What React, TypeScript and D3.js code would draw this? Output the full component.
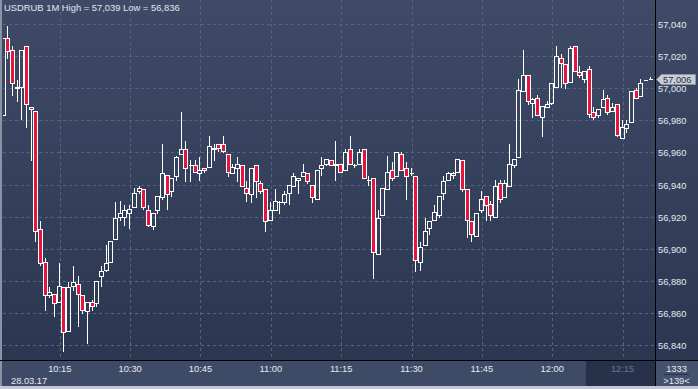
import React from 'react';
import * as d3 from 'd3';

// USDRUB, 1-minute bars, 28.03.17
const symbol = 'USDRUB';
const period = '1M';
const sessionDate = '28.03.17';
const firstBar = new Date(2017, 2, 28, 10, 3);
const totalBars = 1333;

const opens = [
  56.983, 57.031, 57.024, 57.001, 57.001, 57.026, 56.988, 56.986, 56.912, 56.892,
  56.871, 56.872, 56.867, 56.876, 56.849, 56.877, 56.878, 56.871, 56.861, 56.867,
  56.866, 56.883, 56.887, 56.892, 56.906, 56.920, 56.920, 56.922, 56.926, 56.936,
  56.937, 56.924, 56.914, 56.924, 56.932, 56.946, 56.936, 56.945, 56.959, 56.962,
  56.952, 56.952, 56.947, 56.950, 56.951, 56.963, 56.965, 56.965, 56.959, 56.947,
  56.950, 56.952, 56.938, 56.934, 56.952, 56.941, 56.937, 56.918, 56.924, 56.929,
  56.929, 56.935, 56.939, 56.943, 56.945, 56.947, 56.940, 56.931, 56.950, 56.953,
  56.955, 56.952, 56.953, 56.949, 56.962, 56.952, 56.953, 56.962, 56.943, 56.944,
  56.897, 56.921, 56.937, 56.949, 56.945, 56.959, 56.950, 56.947, 56.945, 56.892,
  56.902, 56.913, 56.918, 56.921, 56.935, 56.943, 56.946, 56.948, 56.955, 56.937,
  56.917, 56.908, 56.924, 56.933, 56.928, 56.920, 56.941, 56.932, 56.939, 56.952,
  56.957, 56.998, 57.008, 56.991, 56.994, 56.982, 56.988, 56.991, 57.001, 57.019,
  57.015, 57.004, 57.026, 57.010, 57.006, 57.012, 56.985, 56.983, 56.988, 56.994,
  56.986, 56.990, 56.969, 56.975, 56.979, 56.999, 56.995, 57.005, 57.006,
];

const highs = [
  57.031, 57.039, 57.026, 57.005, 57.024, 57.026, 56.988, 56.986, 56.917, 56.894,
  56.876, 56.872, 56.891, 56.876, 56.879, 56.889, 56.883, 56.871, 56.867, 56.868,
  56.880, 56.889, 56.902, 56.905, 56.929, 56.930, 56.927, 56.927, 56.938, 56.939,
  56.937, 56.927, 56.922, 56.933, 56.965, 56.946, 56.944, 56.958, 56.985, 56.967,
  56.955, 56.955, 56.957, 56.950, 56.970, 56.965, 56.965, 56.970, 56.959, 56.953,
  56.957, 56.952, 56.942, 56.950, 56.952, 56.942, 56.937, 56.929, 56.937, 56.930,
  56.936, 56.940, 56.947, 56.944, 56.953, 56.947, 56.940, 56.949, 56.957, 56.956,
  56.955, 56.967, 56.953, 56.962, 56.970, 56.953, 56.962, 56.962, 56.945, 56.944,
  56.924, 56.938, 56.958, 56.954, 56.960, 56.960, 56.954, 56.950, 56.945, 56.904,
  56.919, 56.917, 56.927, 56.933, 56.945, 56.948, 56.948, 56.956, 56.955, 56.937,
  56.917, 56.922, 56.936, 56.933, 56.930, 56.943, 56.943, 56.943, 56.965, 56.956,
  57.006, 57.024, 57.008, 56.994, 56.996, 56.989, 56.992, 57.003, 57.026, 57.021,
  57.015, 57.026, 57.026, 57.014, 57.011, 57.014, 56.988, 56.987, 56.999, 56.996,
  56.991, 56.990, 56.980, 56.980, 56.998, 57.000, 57.006, 57.005, 57.007,
];

const lows = [
  56.983, 57.019, 56.996, 56.992, 56.981, 56.976, 56.955, 56.905, 56.890, 56.862,
  56.870, 56.858, 56.867, 56.836, 56.849, 56.874, 56.852, 56.860, 56.841, 56.862,
  56.864, 56.877, 56.886, 56.892, 56.906, 56.918, 56.915, 56.913, 56.926, 56.935,
  56.925, 56.914, 56.912, 56.922, 56.931, 56.925, 56.933, 56.943, 56.959, 56.942,
  56.942, 56.948, 56.943, 56.948, 56.951, 56.955, 56.961, 56.960, 56.945, 56.947,
  56.942, 56.939, 56.930, 56.929, 56.932, 56.935, 56.911, 56.918, 56.924, 56.922,
  56.928, 56.928, 56.939, 56.935, 56.945, 56.941, 56.929, 56.931, 56.946, 56.952,
  56.952, 56.943, 56.948, 56.949, 56.953, 56.951, 56.953, 56.944, 56.940, 56.882,
  56.897, 56.921, 56.937, 56.943, 56.945, 56.949, 56.931, 56.946, 56.886, 56.887,
  56.902, 56.909, 56.918, 56.920, 56.931, 56.943, 56.944, 56.948, 56.936, 56.907,
  56.905, 56.908, 56.923, 56.918, 56.918, 56.920, 56.929, 56.932, 56.939, 56.951,
  56.957, 56.998, 56.990, 56.982, 56.983, 56.970, 56.988, 56.990, 57.001, 57.001,
  57.000, 57.004, 57.011, 57.007, 57.004, 56.982, 56.981, 56.982, 56.988, 56.984,
  56.986, 56.970, 56.969, 56.973, 56.979, 56.994, 56.995, 57.005, 57.006,
];

const closes = [
  57.031, 57.023, 57.003, 57.000, 57.024, 56.990, 56.987, 56.911, 56.891, 56.871,
  56.873, 56.866, 56.877, 56.848, 56.876, 56.879, 56.872, 56.862, 56.867, 56.864,
  56.880, 56.886, 56.891, 56.905, 56.919, 56.922, 56.924, 56.925, 56.935, 56.938,
  56.926, 56.915, 56.922, 56.933, 56.947, 56.934, 56.944, 56.957, 56.962, 56.950,
  56.952, 56.948, 56.949, 56.949, 56.964, 56.962, 56.963, 56.961, 56.948, 56.951,
  56.953, 56.939, 56.935, 56.950, 56.942, 56.936, 56.917, 56.924, 56.930, 56.929,
  56.934, 56.940, 56.945, 56.944, 56.948, 56.942, 56.932, 56.949, 56.952, 56.956,
  56.952, 56.953, 56.948, 56.960, 56.953, 56.952, 56.960, 56.944, 56.943, 56.898,
  56.919, 56.938, 56.948, 56.944, 56.960, 56.949, 56.945, 56.947, 56.893, 56.901,
  56.911, 56.917, 56.923, 56.933, 56.942, 56.947, 56.947, 56.956, 56.937, 56.918,
  56.909, 56.922, 56.931, 56.927, 56.921, 56.939, 56.931, 56.941, 56.953, 56.956,
  56.999, 57.008, 56.992, 56.993, 56.983, 56.989, 56.990, 57.003, 57.020, 57.016,
  57.003, 57.025, 57.011, 57.008, 57.011, 56.984, 56.982, 56.987, 56.993, 56.985,
  56.988, 56.971, 56.976, 56.978, 56.998, 56.994, 57.003, 57.005, 57.006,
];

const priceTicks = [56.84, 56.86, 56.88, 56.90, 56.92, 56.94, 56.96, 56.98, 57.0, 57.02, 57.04];

const W = 698;
const H = 389;
const plotLeft = 3;
const plotRight = 655;
const plotBottom = 360;
const axisBottom = 386;
const font = '"Liberation Sans", Arial, sans-serif';

const fmtPrice = (v: number) => d3.format('.3f')(v).replace('.', ',');

export default function App() {
  const n = closes.length;
  const times = d3.range(n).map(i => d3.timeMinute.offset(firstBar, i));

  const x = d3.scaleTime()
    .domain([times[0], times[n - 1]])
    .range([3.5, 650.7]);

  const y = d3.scaleLinear()
    .domain([56.84, 57.04])
    .range([345, 24]);

  const timeTicks = x.ticks(d3.timeMinute.every(15) as any);
  const fmtTime = d3.timeFormat('%H:%M');

  const hi = d3.max(highs) as number;
  const lo = d3.min(lows) as number;
  const last = closes[n - 1];
  const lastY = Math.round(y(last)) + 0.5;

  const candles = times.map((t, i) => {
    const cx = Math.round(x(t));
    const o = opens[i], c = closes[i];
    const yTop = Math.round(y(Math.max(o, c))) + 0.5;
    const yBot = Math.round(y(Math.min(o, c))) + 0.5;
    const yHi = Math.round(y(highs[i]));
    const yLo = Math.round(y(lows[i])) + 1;
    const bear = c < o;
    const wx = cx - 0.5;
    return (
      <g key={i}>
        {yHi < yTop && <line x1={wx} x2={wx} y1={yHi} y2={yTop} stroke="#fff" />}
        {yLo > yBot && <line x1={wx} x2={wx} y1={yBot} y2={yLo} stroke="#fff" />}
        {yBot - yTop < 1 ? (
          <line x1={cx - 2} x2={cx + 2} y1={yTop} y2={yTop} stroke="#fff" />
        ) : (
          <rect x={cx - 2.5} y={yTop} width={4} height={yBot - yTop}
            fill={bear ? '#e3173e' : 'none'} stroke="#fff" strokeWidth={1} />
        )}
      </g>
    );
  });

  return (
    <svg width={W} height={H} style={{ position: 'fixed', left: 0, top: 0, display: 'block' }}
      fontFamily={font}>
      <defs>
        <linearGradient id="bg" x1="0" y1="0" x2="0" y2="1">
          <stop offset="0" stopColor="#3f4b66" />
          <stop offset="1" stopColor="#2b3751" />
        </linearGradient>
        <clipPath id="plot">
          <rect x={plotLeft} y={0} width={plotRight - plotLeft} height={plotBottom} />
        </clipPath>
      </defs>
      <rect width={W} height={H} fill="#c3c9d3" />
      <rect x={0} y={0} width={2} height={axisBottom} fill="#8a93a3" />
      <rect x={2} y={0} width={W - 2} height={plotBottom} fill="url(#bg)" />
      <rect x={2} y={plotBottom} width={W - 2} height={axisBottom - plotBottom} fill="#3e4b66" />
      <rect x={586} y={plotBottom + 1} width={plotRight - 586} height={axisBottom - plotBottom - 1} fill="#27324a" />
      <rect x={plotRight} y={plotBottom} width={W - plotRight} height={axisBottom - plotBottom} fill="#45526d" />

      {/* grid */}
      {priceTicks.map(v => (
        <line key={v} x1={plotLeft} x2={plotRight} y1={Math.round(y(v)) + 0.5} y2={Math.round(y(v)) + 0.5}
          stroke="#56647f" strokeDasharray="3,3" />
      ))}
      {timeTicks.map(t => (
        <line key={+t} x1={Math.round(x(t)) + 0.5} x2={Math.round(x(t)) + 0.5} y1={0} y2={plotBottom}
          stroke="#56647f" strokeDasharray="3,3" />
      ))}

      <g clipPath="url(#plot)">{candles}</g>

      {/* frame lines */}
      <line x1={0} x2={W} y1={plotBottom + 0.5} y2={plotBottom + 0.5} stroke="#000" />
      <line x1={plotRight + 0.5} x2={plotRight + 0.5} y1={0} y2={axisBottom} stroke="#000" />

      {/* title */}
      <text x={4} y={11} fontSize={9.4} fill="#e1e6ee">
        {`${symbol} ${period} High = ${fmtPrice(hi)} Low = ${fmtPrice(lo)}`}
      </text>

      {/* price axis */}
      {priceTicks.map(v => (
        <text key={v} x={658} y={Math.round(y(v)) + 3.5} fontSize={9.3} fill="#e4e9f1">
          {fmtPrice(v)}
        </text>
      ))}
      <path d={`M656.5,${lastY} L661.5,${lastY - 5} H695.5 V${lastY + 5} H661.5 Z`}
        fill="#c9ced6" stroke="#8d95a4" />
      <text x={663} y={lastY + 3.5} fontSize={9.3} fill="#2b3140">{fmtPrice(last)}</text>

      {/* time axis */}
      {timeTicks.map(t => {
        const late = x(t) > 586;
        return (
          <text key={+t} x={x(t)} y={372} fontSize={9.3} textAnchor="middle"
            fill={late ? '#6a7792' : '#e4e9f1'}>
            {fmtTime(t)}
          </text>
        );
      })}
      <text x={11} y={384} fontSize={9.3} fill="#e4e9f1">{sessionDate}</text>

      {/* bar counter */}
      <text x={676.5} y={372} fontSize={9.3} textAnchor="middle" fill="#e4e9f1">{totalBars}</text>
      <line x1={664} x2={689} y1={374.5} y2={374.5} stroke="#2a3247" />
      <text x={676.5} y={384} fontSize={9.3} textAnchor="middle" fill="#e4e9f1">{`>${n}<`}</text>
    </svg>
  );
}
